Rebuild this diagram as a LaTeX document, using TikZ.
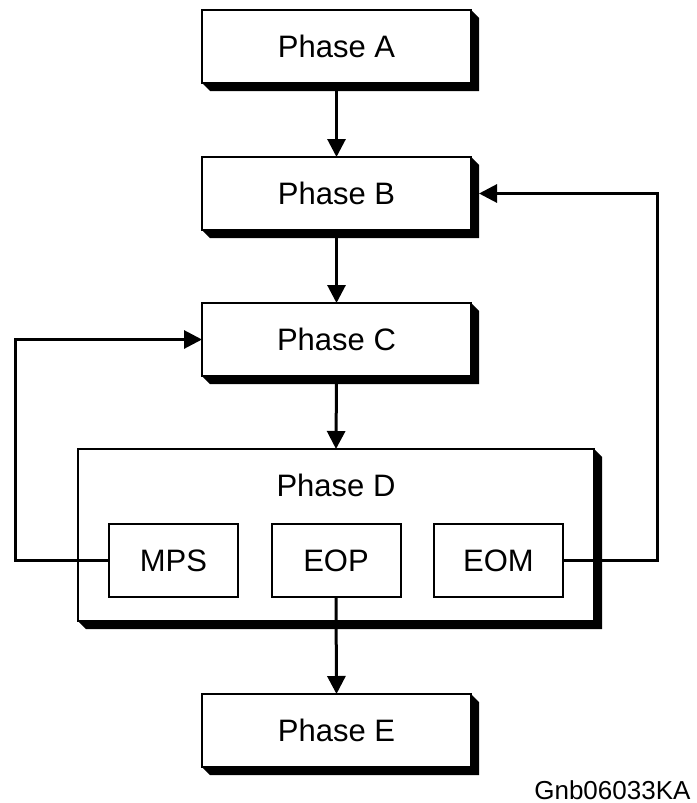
\documentclass[tikz,border=0pt]{standalone}
\usepackage{fontspec}
\setmainfont{Liberation Sans}
\usetikzlibrary{arrows.meta}

\begin{document}
\begin{tikzpicture}[x=1pt,y=-1pt,>={Triangle[length=18pt,width=18pt]},
  phase/.style={draw,line width=2pt,fill=white,minimum width=269pt,
    minimum height=73pt,inner sep=0pt,outer sep=0pt,
    font=\fontsize{31}{36}\selectfont},
  part/.style={phase,minimum width=129pt},
  link/.style={line width=3pt}]
\useasboundingbox (0,0) rectangle (696,803);
% ---------- phase boxes ----------
\node[phase] (A) at (336.5,46.5) {Phase A};
\node[phase] (B) at (336.5,193.5) {Phase B};
\node[phase] (C) at (336.5,339.5) {Phase C};
\node[phase,minimum width=516pt,minimum height=172pt] (D) at (336,535) {};
\node[phase] (E) at (336.5,730.5) {Phase E};
% ---------- inside phase D ----------
\node[font=\fontsize{31}{36}\selectfont] (Dlabel) at (336,485) {Phase D};
\node[part] (MPS) at (173.5,560.5) {MPS};
\node[part] (EOP) at (336,560.5) {EOP};
\node[part] (EOM) at (498.5,560.5) {EOM};
% ---------- shadows ----------
\foreach \n in {A,B,C,D,E}
  \fill (\n.north east) -- ++(8,8) |- ([shift={(8,8)}]\n.south west)
    -- (\n.south west) -- (\n.south east) -- cycle;
% ---------- main flow ----------
\draw[link,->] (A.south) -- (B.north);
\draw[link,->] (B.south) -- (C.north);
\draw[link,->] (C.south) -- (D.north);
\draw[link,->] (EOP.south) -- (E.north);
% ---------- feedback loops ----------
\coordinate (lft) at (15,0);
\coordinate (rgt) at (657,0);
\draw[link,->] (MPS.west) -- (MPS.west -| lft) |- (C.west);
\draw[link,->] (EOM.east) -- (EOM.east -| rgt) |- ([xshift=8pt]B.east);
% ---------- drawing code ----------
\node[anchor=base east,font=\fontsize{26}{30}\selectfont] (code) at (694,799) {Gnb06033KA};
\end{tikzpicture}
\end{document}
